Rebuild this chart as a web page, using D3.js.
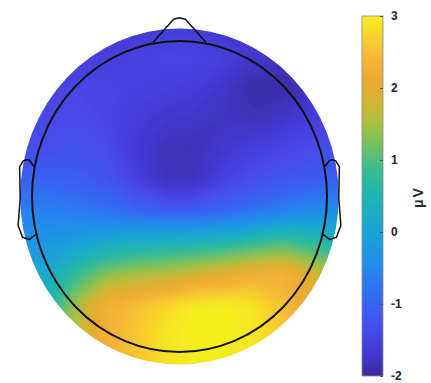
<!DOCTYPE html>
<html>
<head>
<meta charset="utf-8">
<script src="https://cdn.jsdelivr.net/npm/d3@7"></script>
<style>
  body { margin: 0; background: #fff; }
</style>
</head>
<body>
<div id="chart"></div>
<script>
// grid positions in head units (head radius = 0.5), nose up
const gridX = [-0.55, -0.45, -0.35, -0.25, -0.15, -0.05, 0.05, 0.15, 0.25, 0.35, 0.45, 0.55];
const gridY = [0.55, 0.45, 0.35, 0.25, 0.15, 0.05, -0.05, -0.15, -0.25, -0.35, -0.45, -0.55];

// potential in µV, one row per gridY
const gridValues = [
    [-1.7, -1.7, -1.7, -1.7, -1.7, -1.65, -1.65, -1.7, -1.75, -1.8, -1.85, -1.85],
    [-1.55, -1.55, -1.55, -1.55, -1.5, -1.45, -1.45, -1.55, -1.7, -1.8, -1.85, -1.85],
    [-1.5, -1.5, -1.45, -1.45, -1.5, -1.55, -1.6, -1.75, -1.95, -1.95, -1.8, -1.75],
    [-1.4, -1.4, -1.35, -1.45, -1.6, -1.7, -1.75, -1.8, -1.85, -1.75, -1.6, -1.55],
    [-1.3, -1.3, -1.25, -1.35, -1.65, -1.85, -1.85, -1.7, -1.55, -1.45, -1.35, -1.3],
    [-1.0, -1.0, -1.05, -1.2, -1.5, -1.8, -1.8, -1.5, -1.3, -1.2, -1.1, -1.0],
    [-0.6, -0.6, -0.7, -0.8, -0.95, -1.1, -1.1, -0.95, -0.8, -0.6, -0.45, -0.4],
    [-0.3, -0.25, -0.05, 0.15, 0.3, 0.4, 0.45, 0.55, 0.75, 0.95, 0.7, 0.5],
    [-0.1, 0.2, 0.8, 1.3, 1.5, 1.6, 1.8, 2.0, 2.25, 2.35, 1.9, 1.4],
    [0.2, 0.5, 1.5, 2.3, 2.5, 2.75, 2.95, 3.0, 2.9, 2.5, 2.0, 1.5],
    [0.5, 0.8, 1.6, 2.3, 2.6, 2.9, 3.0, 3.0, 2.9, 2.6, 2.1, 1.6],
    [0.6, 0.9, 1.6, 2.2, 2.5, 2.8, 2.95, 2.95, 2.8, 2.5, 2.1, 1.7]
];

const cbarTicks = [-2, -1, 0, 1, 2, 3];

// parula-like colormap
const cmapValues = [-2, -1.7, -1.4, -1.1, -0.8, -0.5, -0.2, 0, 0.3, 0.6, 0.9, 1.2, 1.5, 1.8, 2.1, 2.4, 2.7, 3];
const cmapColors = ["#3a2a9e", "#4437cf", "#4848e8", "#3d5cf2", "#3072f0", "#2389ee", "#1c9ae0", "#1aa3d6",
    "#1baec0", "#25b7a8", "#3dbc8c", "#70c260", "#a8c040", "#d2b432", "#e9aa32", "#f6b43a", "#f7d22c", "#f4f01e"];

// head outline (eeglab topoplot shape)
const noseX = [0.09, 0.02, 0, -0.02, -0.09];
const noseY = [0.4954, 0.57, 0.575, 0.57, 0.4954];
const earX = [0.492, 0.510, 0.518, 0.5299, 0.5419, 0.54, 0.547, 0.532, 0.510, 0.484];
const earY = [0.0955, 0.1175, 0.1183, 0.1146, 0.0955, -0.0055, -0.0932, -0.1313, -0.1384, -0.1199];

const w = 431, h = 383;
const plotRad = 0.54;

let x = d3.scaleLinear().domain([-0.5, 0.5]).range([32, 327]);
let y = d3.scaleLinear().domain([0.5, -0.5]).range([41, 352]);
let color = d3.scaleLinear().domain(cmapValues).range(cmapColors).clamp(true);

let svg = d3.select("#chart")
    .append("svg")
    .attr("width", w)
    .attr("height", h);

let defs = svg.append("defs");
defs.append("clipPath").attr("id", "disk")
    .append("ellipse")
    .attr("cx", x(0)).attr("cy", y(0))
    .attr("rx", x(plotRad) - x(0)).attr("ry", y(-plotRad) - y(0));
defs.append("filter").attr("id", "soft")
    .attr("x", "-10%").attr("y", "-10%").attr("width", "120%").attr("height", "120%")
    .append("feGaussianBlur").attr("stdDeviation", 4);

// interpolated map via contour bands
let n = gridX.length, m = gridY.length;
let gx = d3.scaleLinear().domain([0.5, n - 0.5]).range([gridX[0], gridX[n - 1]]);
let gy = d3.scaleLinear().domain([0.5, m - 0.5]).range([gridY[0], gridY[m - 1]]);
let contours = d3.contours()
    .size([n, m])
    .thresholds(d3.range(-2.4, 3.35, 0.04))(gridValues.flat());
let proj = d3.geoTransform({
    point: function (px, py) { this.stream.point(x(gx(px)), y(gy(py))); }
});
let path = d3.geoPath(proj);

svg.append("g")
    .attr("clip-path", "url(#disk)")
    .append("g")
    .attr("filter", "url(#soft)")
    .selectAll("path")
    .data(contours)
    .join("path")
    .attr("d", path)
    .attr("fill", (d) => color(d.value + 0.02))
    .attr("stroke", (d) => color(d.value + 0.02))
    .attr("stroke-width", 0.5);

// head, nose, ears
let line = d3.line().x((d) => x(d[0])).y((d) => y(d[1]));
let outline = svg.append("g")
    .attr("fill", "none")
    .attr("stroke", "#111")
    .attr("stroke-linejoin", "round");

outline.append("ellipse")
    .attr("cx", x(0)).attr("cy", y(0))
    .attr("rx", x(0.5) - x(0)).attr("ry", y(-0.5) - y(0))
    .attr("stroke-width", 2);
outline.append("path")
    .attr("d", line(noseX.map((v, i) => [v, noseY[i]])))
    .attr("stroke-width", 1.5);
outline.append("path")
    .attr("d", line(earX.map((v, i) => [v, earY[i]])))
    .attr("stroke-width", 1.5);
outline.append("path")
    .attr("d", line(earX.map((v, i) => [-v, earY[i]])))
    .attr("stroke-width", 1.5);

// colorbar
let cb = { x: 362, w: 21, top: 16, bottom: 376 };
let cScale = d3.scaleLinear().domain([-2, 3]).range([cb.bottom, cb.top]);

let grad = defs.append("linearGradient").attr("id", "cbar")
    .attr("x1", 0).attr("y1", 1).attr("x2", 0).attr("y2", 0);
grad.selectAll("stop")
    .data(d3.range(0, 1.0001, 0.02))
    .join("stop")
    .attr("offset", (t) => t)
    .attr("stop-color", (t) => color(-2 + 5 * t));

svg.append("rect")
    .attr("x", cb.x).attr("y", cb.top)
    .attr("width", cb.w).attr("height", cb.bottom - cb.top)
    .attr("fill", "url(#cbar)")
    .attr("stroke", "#8a8a8a")
    .attr("stroke-width", 0.8);

let cAxis = d3.axisRight(cScale)
    .tickValues(cbarTicks)
    .tickFormat((d) => String(d))
    .tickSizeInner(-3)
    .tickSizeOuter(0)
    .tickPadding(8);

let axisG = svg.append("g")
    .attr("transform", "translate(" + (cb.x + cb.w) + ",0)")
    .call(cAxis);
axisG.select(".domain").remove();
axisG.selectAll(".tick line").attr("stroke", "#555");
axisG.selectAll(".tick text")
    .attr("fill", "#262626")
    .style("font-family", "Liberation Sans, Arial, sans-serif")
    .style("font-size", "12px")
    .style("font-weight", "bold");

svg.append("text")
    .attr("transform", "translate(423,197) rotate(-90)")
    .attr("text-anchor", "middle")
    .attr("fill", "#2a2a2a")
    .style("font-family", "Liberation Sans, Arial, sans-serif")
    .style("font-size", "14px")
    .style("font-weight", "bold")
    .style("letter-spacing", "2px")
    .text("\u03bcV");
</script>
</body>
</html>
